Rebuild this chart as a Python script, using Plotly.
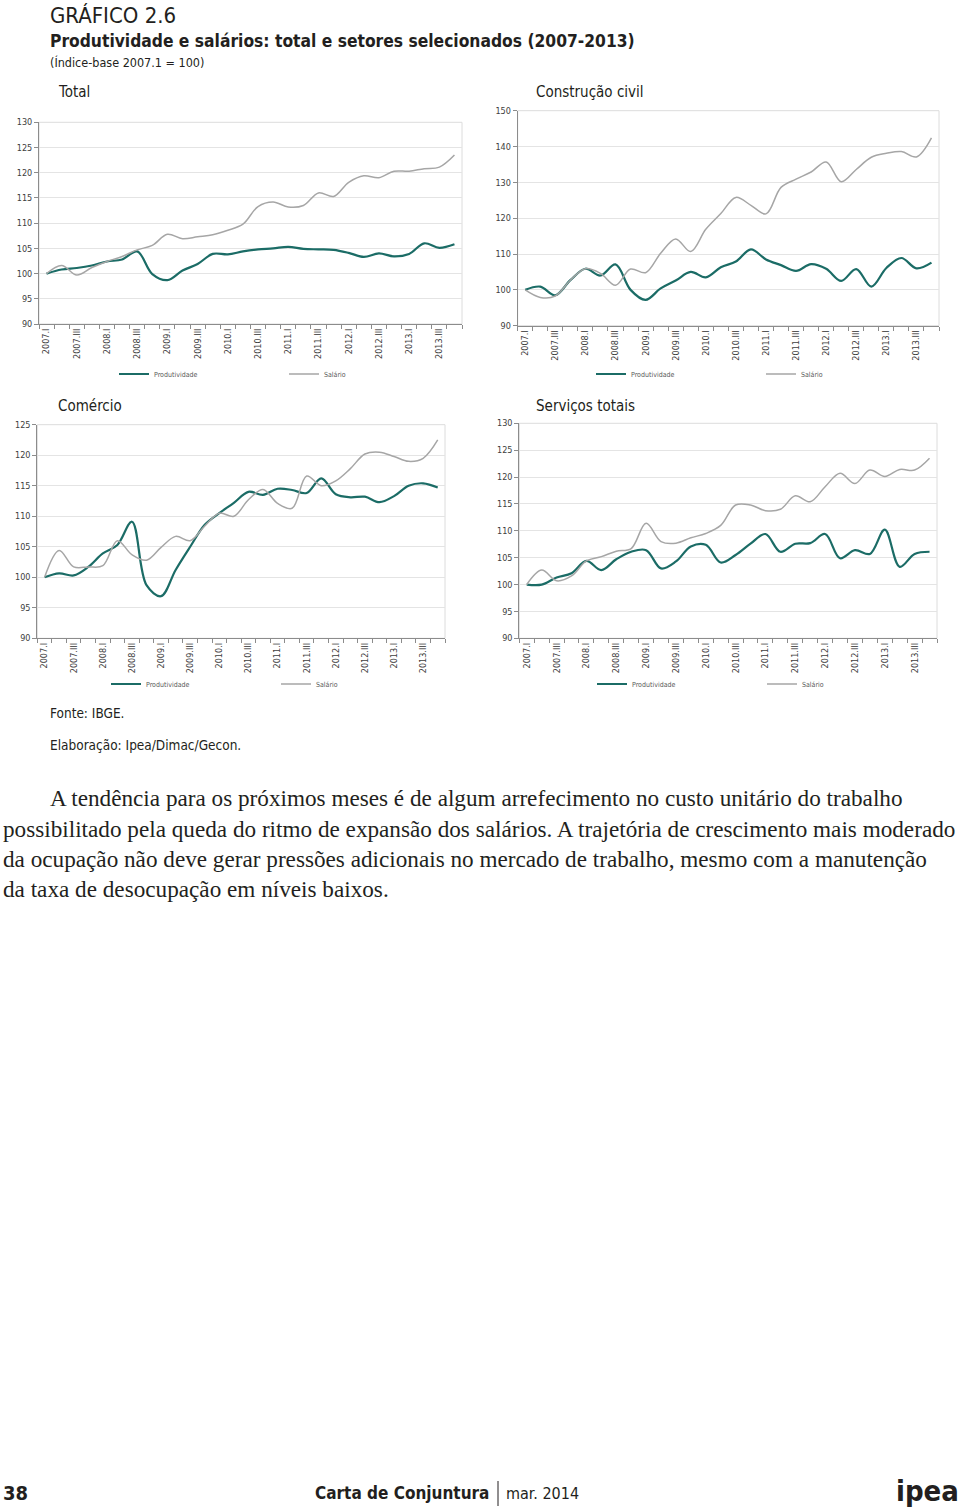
import plotly.graph_objects as go

# ---------------- data ----------------
quarters = ["2007.I", "2007.II", "2007.III", "2007.IV", "2008.I", "2008.II", "2008.III", "2008.IV",
            "2009.I", "2009.II", "2009.III", "2009.IV", "2010.I", "2010.II", "2010.III", "2010.IV",
            "2011.I", "2011.II", "2011.III", "2011.IV", "2012.I", "2012.II", "2012.III", "2012.IV",
            "2013.I", "2013.II", "2013.III", "2013.IV"]
tick_labels = ["2007.I", "2007.III", "2008.I", "2008.III", "2009.I", "2009.III", "2010.I",
               "2010.III", "2011.I", "2011.III", "2012.I", "2012.III", "2013.I", "2013.III"]

total_prod = [100, 100.8, 101.1, 101.6, 102.4, 102.8, 104.4, 99.9, 98.7, 100.6, 101.9, 103.9,
              103.8, 104.4, 104.8, 105.0, 105.3, 104.9, 104.8, 104.7, 104.1, 103.3, 104.0, 103.4,
              103.9, 106.0, 105.1, 105.8]
total_sal = [100, 101.6, 99.7, 101.2, 102.4, 103.4, 104.7, 105.6, 107.8, 106.9, 107.3, 107.7,
             108.6, 109.8, 113.3, 114.2, 113.2, 113.5, 116.0, 115.3, 118.1, 119.4, 119.0, 120.3,
             120.3, 120.8, 121.1, 123.5]

const_prod = [100, 100.9, 98.5, 102.7, 105.9, 104.0, 107.1, 100.0, 97.2, 100.4, 102.6, 105.0,
              103.5, 106.3, 107.9, 111.3, 108.5, 106.9, 105.3, 107.2, 105.9, 102.5, 105.8, 100.9,
              106.1, 108.9, 106.0, 107.6]
const_sal = [100, 97.9, 98.3, 102.7, 105.9, 104.6, 101.3, 105.8, 104.8, 110.2, 114.2, 110.7,
             116.9, 121.3, 125.8, 123.6, 121.2, 128.6, 130.9, 132.9, 135.7, 130.2, 133.6, 137.0,
             138.1, 138.6, 137.1, 142.4]

com_prod = [100, 100.65, 100.3, 101.7, 103.9, 105.3, 109.1, 98.7, 96.9, 101.2, 105.0, 108.6,
            110.5, 112.2, 114.0, 113.5, 114.5, 114.3, 113.8, 116.2, 113.6, 113.1, 113.2, 112.3,
            113.3, 115.0, 115.4, 114.7]
com_sal = [100, 104.4, 101.7, 101.7, 101.9, 106.0, 103.7, 102.8, 104.9, 106.7, 106.0, 108.4,
           110.5, 110.0, 112.7, 114.4, 112.1, 111.3, 116.6, 115.0, 115.8, 117.8, 120.2, 120.5,
           119.8, 119.0, 119.5, 122.5]

serv_prod = [100, 99.98, 101.3, 102.1, 104.4, 102.7, 104.7, 106.1, 106.4, 103.0, 104.3, 107.1,
             107.4, 104.1, 105.5, 107.6, 109.4, 106.1, 107.6, 107.7, 109.4, 104.9, 106.4, 105.7,
             110.2, 103.3, 105.7, 106.1]
serv_sal = [100, 102.7, 100.7, 101.6, 104.4, 105.2, 106.2, 106.7, 111.4, 108.0, 107.7, 108.7,
            109.5, 111.0, 114.8, 114.8, 113.75, 114.0, 116.5, 115.4, 118.2, 120.7, 118.8, 121.3,
            120.1, 121.4, 121.3, 123.5]

panel_titles = ["Total", "Construção civil", "Comércio", "Serviços totais"]
series_names = ["Produtividade", "Salário"]

# ---------------- style ----------------
GREEN = "#1b6c66"
GRAY = "#a6a6a6"
FONT = "Liberation Sans Narrow, DejaVu Sans Condensed, Roboto, sans-serif"
TXT = "#231f20"
W, H = 960, 1511


def px(x):
    return x / W


def py(y):
    return 1 - y / H


panels = [
    dict(prod=total_prod, sal=total_sal, yr=[90, 130], dt=5,
         xd=[39, 462], yd=[122.3, 324], leg_x=114, leg_y=374, title_xy=(56, 92)),
    dict(prod=const_prod, sal=const_sal, yr=[90, 150], dt=10,
         xd=[517.7, 939], yd=[110.7, 325.7], leg_x=591, leg_y=374, title_xy=(534, 92)),
    dict(prod=com_prod, sal=com_sal, yr=[90, 125], dt=5,
         xd=[37.3, 445], yd=[424.7, 638.3], leg_x=106, leg_y=684, title_xy=(56, 406)),
    dict(prod=serv_prod, sal=serv_sal, yr=[90, 130], dt=5,
         xd=[519.3, 937], yd=[423.3, 638.3], leg_x=592, leg_y=684, title_xy=(534, 406)),
]

fig = go.Figure()
xs = list(range(len(quarters)))
tickvals = [quarters.index(t) for t in tick_labels]
annotations = []
shapes = []
layout = {}

for i, p in enumerate(panels, start=1):
    sfx = "" if i == 1 else str(i)
    legname = "legend" if i == 1 else f"legend{i}"
    fig.add_trace(go.Scatter(x=xs, y=p["prod"], mode="lines", name=series_names[0],
                             line=dict(color=GREEN, width=2.2, shape="spline", smoothing=1),
                             xaxis="x" + sfx, yaxis="y" + sfx, legend=legname,
                             hoverinfo="skip"))
    fig.add_trace(go.Scatter(x=xs, y=p["sal"], mode="lines", name=series_names[1],
                             line=dict(color=GRAY, width=1.5, shape="spline", smoothing=1),
                             xaxis="x" + sfx, yaxis="y" + sfx, legend=legname,
                             hoverinfo="skip"))
    layout["xaxis" + sfx] = dict(
        domain=[px(p["xd"][0]), px(p["xd"][1])], anchor="y" + sfx,
        range=[-0.5, len(quarters) - 0.5], tickmode="array", tickvals=tickvals,
        ticktext=tick_labels, tickangle=-90, ticks="",
        tickfont=dict(family=FONT, size=9, color="#404040"),
        showline=True, linecolor="#8c8c8c", linewidth=1, showgrid=False, zeroline=False,
        minor=dict(tickvals=[k - 0.5 for k in range(len(quarters) + 1)], ticks="outside",
                   ticklen=4, tickcolor="#8c8c8c", showgrid=False),
        fixedrange=True,
    )
    layout["yaxis" + sfx] = dict(
        domain=[py(p["yd"][1]), py(p["yd"][0])], anchor="x" + sfx,
        range=p["yr"], dtick=p["dt"], tick0=90, ticks="outside", ticklen=4,
        tickcolor="#8c8c8c", tickfont=dict(family=FONT, size=9, color="#404040"),
        showline=True, linecolor="#8c8c8c", linewidth=1, showgrid=True,
        gridcolor="#e4e4e4", gridwidth=1, zeroline=False, fixedrange=True,
    )
    layout[legname] = dict(
        orientation="h", x=px(p["leg_x"]), y=py(p["leg_y"]), xanchor="left", yanchor="middle",
        font=dict(family=FONT, size=7, color="#595959"), entrywidth=125,
        entrywidthmode="pixels", itemwidth=30, bgcolor="rgba(0,0,0,0)",
    )
    shapes.append(dict(type="rect", xref=f"x{sfx} domain", yref=f"y{sfx} domain",
                       x0=0, x1=1, y0=0, y1=1, line=dict(color="#dcdcdc", width=1),
                       layer="below"))
    tx, ty = p["title_xy"]
    annotations.append(dict(text=panel_titles[i - 1], x=px(tx), y=py(ty), xref="paper",
                            yref="paper", xanchor="left", yanchor="middle", showarrow=False,
                            font=dict(family=FONT, size=15, color=TXT)))


def txt(t, x, y, size, family=FONT, color=TXT, anchor="left"):
    annotations.append(dict(text=t, x=px(x), y=py(y), xref="paper", yref="paper",
                            xanchor=anchor, yanchor="middle", showarrow=False,
                            font=dict(family=family, size=size, color=color)))


txt("GRÁFICO 2.6", 48, 15, 22)
txt("<b>Produtividade e salários: total e setores selecionados (2007-2013)</b>", 48, 41, 17.3)
txt("(Índice-base 2007.1 = 100)", 48, 63, 12.5)
txt("Fonte: IBGE.", 48, 713, 13.5)
txt("Elaboração: Ipea/Dimac/Gecon.", 48, 745, 13.5)

SERIF = "Liberation Serif, DejaVu Serif, serif"
para = [
    ("A tendência para os próximos meses é de algum arrefecimento no custo unitário do trabalho", 48, 798),
    ("possibilitado pela queda do ritmo de expansão dos salários. A trajetória de crescimento mais moderado", 1, 829),
    ("da ocupação não deve gerar pressões adicionais no mercado de trabalho, mesmo com a manutenção", 1, 859),
    ("da taxa de desocupação em níveis baixos.", 1, 889),
]
for t, x, y in para:
    txt(t, x, y, 23.2, family=SERIF)

txt("<b>38</b>", 1, 1493, 20)
txt("<b>Carta de Conjuntura</b>", 313, 1493, 17)
txt("mar. 2014", 504, 1493, 16)
txt("<b>ipea</b>", 961, 1491, 29, anchor="right")
shapes.append(dict(type="line", xref="paper", yref="paper", x0=px(498), x1=px(498),
                   y0=py(1481), y1=py(1506), line=dict(color=TXT, width=1)))

fig.update_layout(
    width=W, height=H, margin=dict(l=0, r=0, t=0, b=0, autoexpand=False),
    paper_bgcolor="white", plot_bgcolor="white",
    showlegend=True, annotations=annotations, shapes=shapes, **layout,
)

fig.write_html("out.html", config={"displayModeBar": False})
